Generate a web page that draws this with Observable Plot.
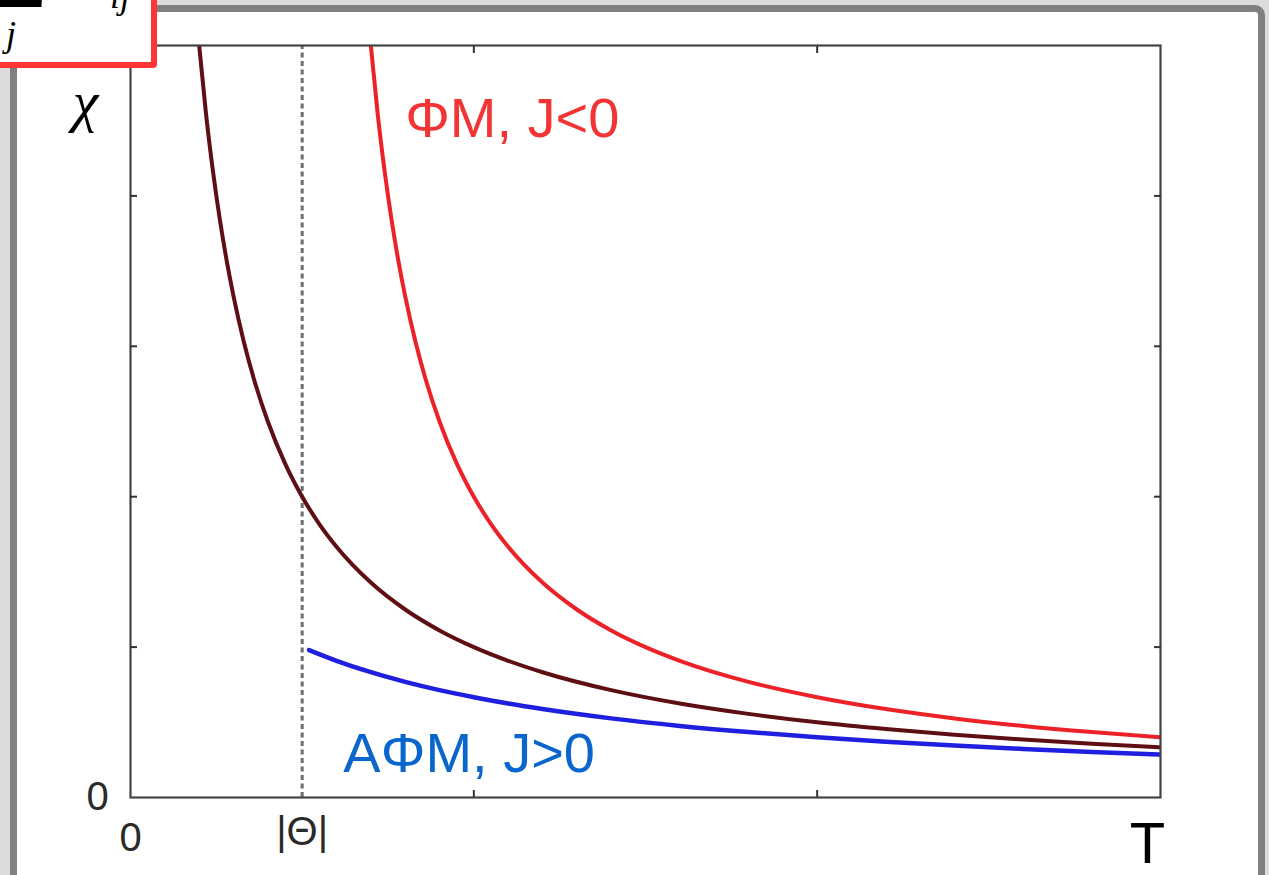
<!DOCTYPE html>
<html>
<head>
<meta charset="utf-8">
<script src="https://cdn.jsdelivr.net/npm/d3@7"></script>
<script src="https://cdn.jsdelivr.net/npm/@observablehq/plot@0.6"></script>
<style>
  html, body { margin: 0; padding: 0; }
  body { width: 1269px; height: 875px; overflow: hidden; background: #dcdcdc; position: relative; font-family: "Liberation Sans", Arial, sans-serif; }
  #panel { position: absolute; left: 10px; top: 5px; width: 1241px; height: 900px; background: #fff; border: 7px solid #808080; border-top-right-radius: 10px; }
  #chart { position: absolute; left: 0; top: 0; }
  #formula { position: absolute; left: -10px; top: -10px; width: 155px; height: 66px; background: #fff; border: 6px solid #ff3535; border-radius: 4px; overflow: hidden; z-index: 5; }
  #formula svg { position: absolute; left: 0; top: 0; }
</style>
</head>
<body>
<div id="panel"></div>
<div id="chart"></div>
<div id="formula">
  <svg width="155" height="66" viewBox="10 10 155 66">
    <text x="-2" y="21" font-family="Liberation Serif, serif" font-size="110" fill="#000">Σ</text>
    <text x="20" y="60" font-family="Liberation Serif, serif" font-style="italic" font-size="36" fill="#000">j</text>
    <text x="124" y="22" font-family="Liberation Serif, serif" font-style="italic" font-size="36" fill="#000">ij</text>
  </svg>
</div>
<script>
// Temperature axis: 0..3 (arbitrary units), |Θ| at 0.5
const thetaT = 0.5;
const xTicks = [1, 2];
const yTicks = [1, 2, 3, 4];

// Paramagnet (dark red) χ vs T
const tempPM = [0.2, 0.22, 0.24, 0.26, 0.28, 0.3, 0.33, 0.36, 0.4, 0.45, 0.5, 0.55, 0.6, 0.7, 0.8, 0.9, 1.0, 1.1, 1.2, 1.4, 1.6, 1.8, 2.0, 2.2, 2.4, 2.6, 2.8, 3.0];
const chiPM  = [5.000, 4.545, 4.167, 3.846, 3.571, 3.333, 3.030, 2.778, 2.500, 2.222, 2.000, 1.818, 1.667, 1.429, 1.250, 1.111, 1.000, 0.909, 0.833, 0.714, 0.625, 0.556, 0.500, 0.455, 0.417, 0.385, 0.357, 0.333];

// Ferromagnet ΦM, J<0 (red)
const tempFM = [0.7, 0.72, 0.74, 0.76, 0.78, 0.8, 0.83, 0.86, 0.9, 0.95, 1.0, 1.05, 1.1, 1.2, 1.3, 1.4, 1.5, 1.6, 1.8, 2.0, 2.2, 2.4, 2.6, 2.8, 3.0];
const chiFM  = [5.000, 4.545, 4.167, 3.846, 3.571, 3.333, 3.030, 2.778, 2.500, 2.222, 2.000, 1.818, 1.667, 1.429, 1.250, 1.111, 1.000, 0.909, 0.769, 0.667, 0.588, 0.526, 0.476, 0.435, 0.400];

// Antiferromagnet AΦM, J>0 (blue)
const tempAFM = [0.52, 0.6, 0.7, 0.8, 0.9, 1.0, 1.1, 1.2, 1.4, 1.6, 1.8, 2.0, 2.2, 2.4, 2.6, 2.8, 3.0];
const chiAFM  = [0.980, 0.909, 0.833, 0.769, 0.714, 0.667, 0.625, 0.588, 0.526, 0.476, 0.435, 0.400, 0.370, 0.345, 0.323, 0.303, 0.286];

const labelFM = {T: 0.80, chi: 4.51, text: "ΦM, J<0"};
const labelAFM = {T: 0.62, chi: 0.29, text: "AΦM, J>0"};

const toRows = (ts, cs) => ts.map((t, i) => ({T: t, chi: cs[i]}));
const pm = toRows(tempPM, chiPM);
const fm = toRows(tempFM, chiFM);
const afm = toRows(tempAFM, chiAFM);

const noLabel = () => "";
const plot = Plot.plot({
  width: 1269,
  height: 875,
  marginLeft: 130,
  marginRight: 109,
  marginTop: 45,
  marginBottom: 78,
  style: {background: "transparent", fontFamily: "Liberation Sans, Arial, sans-serif", overflow: "visible"},
  x: {domain: [0, 3], axis: null},
  y: {domain: [0, 5], axis: null},
  marks: [
    Plot.ruleX([thetaT], {y1: 0, y2: 5, stroke: "#6e6e6e", strokeWidth: 3, strokeDasharray: "5,3.5"}),
    Plot.line(pm, {x: "T", y: "chi", stroke: "#5e0f14", strokeWidth: 4, curve: "monotone-x", clip: true}),
    Plot.line(fm, {x: "T", y: "chi", stroke: "#ec2228", strokeWidth: 4, curve: "monotone-x", clip: true}),
    Plot.line(afm, {x: "T", y: "chi", stroke: "#1f1fe0", strokeWidth: 4.5, curve: "monotone-x", clip: true}),
    Plot.frame({stroke: "#444", strokeWidth: 2.2}),
    Plot.axisY(yTicks, {anchor: "left", tickSize: -7, tickFormat: noLabel, label: null, stroke: "#333", strokeWidth: 2}),
    Plot.axisY(yTicks, {anchor: "right", tickSize: -7, tickFormat: noLabel, label: null, stroke: "#333", strokeWidth: 2}),
    Plot.axisX(xTicks, {anchor: "bottom", tickSize: -7, tickFormat: noLabel, label: null, stroke: "#333", strokeWidth: 2}),
    Plot.axisX(xTicks, {anchor: "top", tickSize: -7, tickFormat: noLabel, label: null, stroke: "#333", strokeWidth: 2}),
    Plot.text(["0"], {x: () => 0, y: () => 0, text: d => d, dx: -33, fontSize: 40, fill: "#2a2a2a", lineAnchor: "middle"}),
    Plot.text(["0"], {x: () => 0, y: () => 0, text: d => d, dy: 41, fontSize: 40, fill: "#2a2a2a", lineAnchor: "middle"}),
    Plot.text(["|Θ|"], {x: () => thetaT, y: () => 0, text: d => d, dy: 35, fontSize: 40, fill: "#2a2a2a", lineAnchor: "middle"}),
    Plot.text(["T"], {x: () => 3, y: () => 0, text: d => d, dx: -13, dy: 47, fontSize: 58, fill: "#000", lineAnchor: "middle"}),
    Plot.text(["χ"], {x: () => 0, y: () => 5, text: d => d, dx: -45, dy: 57, fontSize: 58, fontStyle: "italic", fontFamily: "Liberation Serif, serif", fill: "#000", lineAnchor: "middle"}),
    Plot.text([labelFM], {x: "T", y: "chi", text: "text", textAnchor: "start", fontSize: 56, fill: "#f23434", lineAnchor: "middle"}),
    Plot.text([labelAFM], {x: "T", y: "chi", text: "text", textAnchor: "start", fontSize: 56, fill: "#0a66cc", lineAnchor: "middle"})
  ]
});
document.getElementById("chart").appendChild(plot);
</script>
</body>
</html>
